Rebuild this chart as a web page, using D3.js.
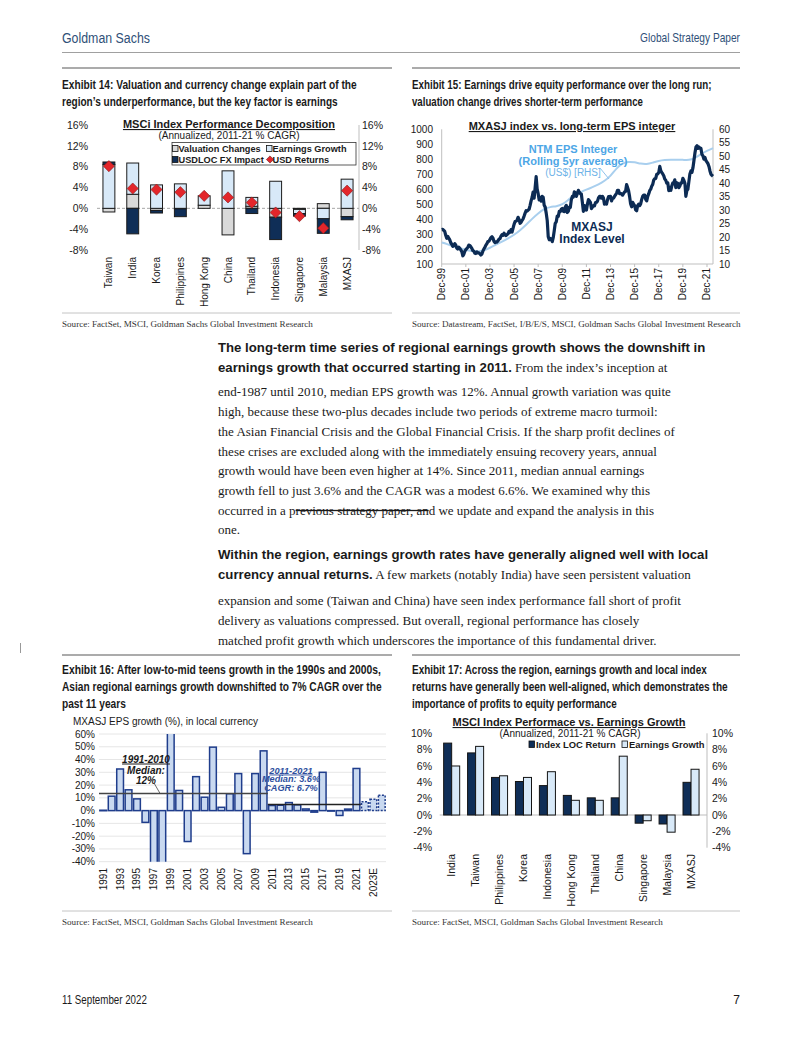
<!DOCTYPE html>
<html><head><meta charset="utf-8">
<script src="https://cdn.jsdelivr.net/npm/d3@7"></script>
<style>body{margin:0;background:#fff}svg{display:block}</style>
</head><body>
<svg id="page" width="802" height="1037"></svg>
<script>
// ---------------- DATA ----------------
// Exhibit 14
const ex14Countries = ["Taiwan","India","Korea","Philippines","Hong Kong","China","Thailand","Indonesia","Singapore","Malaysia","MXASJ"];
const ex14Valuation = [-0.7, 2.7, -0.4, -0.1, 0.6, -5.1, 0.4, -1.7, -0.2, 0.9, -1.6];
const ex14Earnings  = [8.4, 6.0, 4.5, 4.7, 1.8, 7.2, 1.7, 5.2, -0.8, -2.0, 5.6];
const ex14FX        = [0.5, -4.9, -0.5, -1.5, 0.0, 0.0, -1.0, -4.3, -0.5, -2.8, -0.6];
const ex14USD       = [8.1, 3.8, 3.6, 3.1, 2.4, 2.1, 1.1, -0.8, -1.5, -3.8, 3.4];
const ex14Ticks = [-8,-4,0,4,8,12,16];

// Exhibit 15 (monthly from Dec-99)
const mxasjStart = [1999, 11];
const mxasjMonthly = [330,
 332,325,318,292,272,285,272,262,242,232,218,222,
 236,226,206,200,212,205,194,183,155,165,185,196,
 204,212,226,224,215,204,190,186,172,170,181,174,
 175,168,160,166,186,200,212,226,236,250,252,264,
 276,282,274,252,243,248,246,255,266,270,286,296,
 292,306,294,290,296,302,318,312,330,314,340,365,
 384,386,392,412,398,372,378,392,402,420,440,456,
 454,460,466,492,522,546,580,540,612,684,600,570,
 528,546,520,552,546,492,480,440,390,282,262,270,
 264,250,276,322,372,382,420,418,452,450,466,472,
 452,450,480,492,444,452,480,478,530,552,548,582,
 576,552,570,592,580,570,568,512,452,490,468,460,
 500,530,522,512,470,480,490,488,510,512,520,542,
 552,552,540,552,540,500,510,500,530,550,550,552,
 522,540,540,552,562,572,592,592,570,572,568,560,
 572,582,584,630,612,590,552,502,482,512,500,490,
 462,456,490,500,490,502,530,552,560,560,532,522,
 552,570,590,600,620,632,660,670,672,700,702,712,
 752,722,712,702,690,668,660,640,642,590,612,592,
 622,642,642,662,610,642,640,610,622,642,642,672,
 660,640,552,592,600,652,702,722,712,742,792,842,
 882,890,872,882,872,872,832,822,800,812,790,780,
 770,750,722,700,692,686];
// semi-annual from Dec-99
const epsInteger = [18.0,17.3,16.5,15.8,15.2,14.8,14.5,15.0,16.0,17.2,18.3,19.5,20.8,22.5,24.5,26.8,28.8,30.5,31.2,31.4,32.0,33.8,35.6,36.6,37.6,38.5,39.5,40.8,42.6,45.6,47.5,48.0,47.8,47.2,47.0,47.6,48.3,48.6,48.7,48.7,48.7,48.5,49.3,50.8,52.0,53.0];
const ex15LeftTicks = [100,200,300,400,500,600,700,800,900,1000];
const ex15RightTicks = [10,15,20,25,30,35,40,45,50,55,60];

// Exhibit 16
const ex16Years = ["1991","1992","1993","1994","1995","1996","1997","1998","1999","2000","2001","2002","2003","2004","2005","2006","2007","2008","2009","2010","2011","2012","2013","2014","2015","2016","2017","2018","2019","2020","2021","2022E","2023E","2024E"];
const ex16Growth = [0.3,11.3,32.6,16.3,9.2,-9.2,-46,-48,95,15.8,-24.2,26.6,10.5,49.7,2.6,13.2,29.0,-33.7,29.0,46.8,4.0,4.2,6.3,4.5,1.3,-1.2,30.0,-0.3,-3.8,1.2,33.0,7.0,9.0,12.0];
const ex16Ticks = [-40,-30,-20,-10,0,10,20,30,40,50,60];
const ex16Median1 = {from:"1991", to:"2010", value:13.5};
const ex16Median2 = {from:"2011", to:"2021", value:4.7};

// Exhibit 17
const ex17Countries = ["India","Taiwan","Philippines","Korea","Indonesia","Hong Kong","Thailand","China","Singapore","Malaysia","MXASJ"];
const ex17LOC = [8.8, 7.6, 4.6, 4.1, 3.6, 2.4, 2.1, 2.1, -1.0, -1.1, 4.0];
const ex17EPS = [6.0, 8.4, 4.8, 4.6, 5.3, 1.8, 1.8, 7.2, -0.7, -2.1, 5.6];
const ex17Ticks = [-4,-2,0,2,4,6,8,10];

// ---------------- PAGE ----------------
const SANS = "'Liberation Sans', Arial, sans-serif";
const SERIF = "'Liberation Serif', 'Times New Roman', serif";
const NARROW = "'Liberation Sans Narrow', 'Arial Narrow', 'Liberation Sans', Arial, sans-serif";
const INK = "#1a1a1a";
const svg = d3.select("#page");
svg.append("rect").attr("width",802).attr("height",1037).attr("fill","#fff");

function hline(x1,x2,y,col,w){ svg.append("line").attr("x1",x1).attr("x2",x2).attr("y1",y).attr("y2",y).attr("stroke",col).attr("stroke-width",w); }
// condensed text: natural glyphs squeezed horizontally to a target width
function narrowText(x, y, target, str, opts){
  const t = svg.append("text").attr("x",0).attr("y",0).attr("font-family",NARROW)
    .attr("font-size",opts.size).attr("fill",opts.fill||INK).attr("font-weight",opts.weight||"normal")
    .attr("text-anchor",opts.anchor||"start").text(str);
  const w = t.node().getComputedTextLength();
  t.attr("transform",`translate(${x},${y}) scale(${target/w},1)`);
  return t;
}

// header
const headCol = "#2f5078";
narrowText(62,43,88,"Goldman Sachs",{size:15.5,fill:headCol});
narrowText(740,42,100,"Global Strategy Paper",{size:12,fill:headCol,anchor:"end"});
hline(62,740,52.5,"#a0a0a0",1);

// footer
narrowText(62,1004,85,"11 September 2022",{size:12});
svg.append("text").attr("x",740).attr("y",1004).attr("text-anchor","end").attr("font-family",NARROW).attr("font-size",12).attr("fill",INK).text("7");

// exhibit rules & titles
hline(62,392,68,"#ababab",2); hline(412,740,68,"#ababab",2);
hline(62,392,655,"#ababab",2); hline(412,740,655,"#ababab",2);
hline(62,392,313,"#c4c4c4",1); hline(412,740,313,"#c4c4c4",1);
hline(62,392,911,"#c4c4c4",1); hline(412,740,911,"#c4c4c4",1);
svg.append("line").attr("x1",20.5).attr("x2",20.5).attr("y1",643).attr("y2",653).attr("stroke","#999").attr("stroke-width",1);

const titleBlocks = [
  {x:62, y:[88.5,105.5], w:[295,276], lines:["Exhibit 14: Valuation and currency change explain part of the","region’s underperformance, but the key factor is earnings"]},
  {x:412,y:[88.5,105.5], w:[300,231], lines:["Exhibit 15: Earnings drive equity performance over the long run;","valuation change drives shorter-term performance"]},
  {x:62, y:[673.5,690.5,707.5], w:[319,320,64], lines:["Exhibit 16: After low-to-mid teens growth in the 1990s and 2000s,","Asian regional earnings growth downshifted to 7% CAGR over the","past 11 years"]},
  {x:412,y:[673.5,690.5,707.5], w:[295,316,205], lines:["Exhibit 17: Across the region, earnings growth and local index","returns have generally been well-aligned, which demonstrates the","importance of profits to equity performance"]}
];
titleBlocks.forEach(b=>b.lines.forEach((l,i)=>narrowText(b.x,b.y[i],b.w[i],l,{size:12.8,weight:"bold"})));

// sources
const srcs = [
  svg.append("text").attr("x",62).attr("y",327).text("Source: FactSet, MSCI, Goldman Sachs Global Investment Research"),
  svg.append("text").attr("x",412).attr("y",327).text("Source: Datastream, FactSet, I/B/E/S, MSCI, Goldman Sachs Global Investment Research"),
  svg.append("text").attr("x",62).attr("y",924.5).text("Source: FactSet, MSCI, Goldman Sachs Global Investment Research"),
  svg.append("text").attr("x",412).attr("y",924.5).text("Source: FactSet, MSCI, Goldman Sachs Global Investment Research")
];
srcs.forEach(s=>s.attr("font-family",SERIF).attr("font-size",9).attr("fill","#333"));
{ const w = srcs[1].node().getComputedTextLength(); const fs = 9*329/w; srcs.forEach(s=>s.attr("font-size",fs)); }

// body text
const bodyLines = [
 [["b","The long-term time series of regional earnings growth shows the downshift in"]],
 [["b","earnings growth that occurred starting in 2011."],["s"," From the index’s inception at"]],
 [["s","end-1987 until 2010, median EPS growth was 12%. Annual growth variation was quite"]],
 [["s","high, because these two-plus decades include two periods of extreme macro turmoil:"]],
 [["s","the Asian Financial Crisis and the Global Financial Crisis. If the sharp profit declines of"]],
 [["s","these crises are excluded along with the immediately ensuing recovery years, annual"]],
 [["s","growth would have been even higher at 14%. Since 2011, median annual earnings"]],
 [["s","growth fell to just 3.6% and the CAGR was a modest 6.6%. We examined why this"]],
 [["s","occurred in a p"],["x","revious strategy paper, an"],["s","d we update and expand the analysis in this"]],
 [["s","one."]],
 [["b","Within the region, earnings growth rates have generally aligned well with local"]],
 [["b","currency annual returns."],["s"," A few markets (notably India) have seen persistent valuation"]],
 [["s","expansion and some (Taiwan and China) have seen index performance fall short of profit"]],
 [["s","delivery as valuations compressed. But overall, regional performance has closely"]],
 [["s","matched profit growth which underscores the importance of this fundamental driver."]]
];
const bodyY = [352,372,396,416,436,455.5,475,495,514.5,534,559,579,605,625,645];
const bodyX = 218;
const bodyTexts = bodyLines.map((parts,i)=>{
  const t = svg.append("text").attr("x",bodyX).attr("y",bodyY[i]).attr("fill",INK).attr("font-size",14);
  parts.forEach(p=>{
    const ts = t.append("tspan").text(p[1]).attr("class","k"+p[0]);
    if(p[0]==="b"){ ts.attr("font-family",SANS).attr("font-weight","bold"); }
    else { ts.attr("font-family",SERIF); }
    if(p[0]==="x"){ ts.style("text-decoration","line-through"); }
  });
  return t;
});
{ const bw = bodyTexts[0].node().getComputedTextLength(); const bs = 14*488/bw;
  const sw = bodyTexts[2].node().getComputedTextLength(); const ss = 14*453/sw;
  svg.selectAll("tspan.kb").attr("font-size",bs);
  svg.selectAll("tspan.ks, tspan.kx").attr("font-size",ss); }

// ---------------- EXHIBIT 14 ----------------
(function(){
  const g = svg.append("g").attr("font-family",SANS).attr("fill",INK);
  const clip = svg.append("clipPath").attr("id","c14"); clip.append("rect").attr("x",55).attr("y",110).attr("width",345).attr("height",196);
  const x = d3.scaleBand().domain(ex14Countries).range([97,359]).paddingInner(0.5).paddingOuter(0.25);
  const y = d3.scaleLinear().domain([-8,16]).range([250,125]);
  g.selectAll("text.yl").data(ex14Ticks).join("text").attr("x",88).attr("y",d=>y(d)).attr("dy","0.35em").attr("text-anchor","end")
    .attr("font-size",10.5).text(d=>d+"%");
  g.selectAll("text.yr").data(ex14Ticks).join("text").attr("x",362).attr("y",d=>y(d)).attr("dy","0.35em").attr("text-anchor","start")
    .attr("font-size",10.5).text(d=>d+"%");
  g.append("line").attr("x1",359).attr("x2",359).attr("y1",y(16)).attr("y2",y(-8)).attr("stroke","#bfbfbf");
  g.append("line").attr("x1",97).attr("x2",359).attr("y1",y(0)).attr("y2",y(0)).attr("stroke","#a6a6a6").attr("stroke-dasharray","3,2");
  const series = [{vals:ex14Valuation, fill:"#d9d9d9"},{vals:ex14Earnings, fill:"#d8e9f8"},{vals:ex14FX, fill:"#0f2e57"}];
  const segs = [];
  ex14Countries.forEach((c,i)=>{ let pos=0,neg=0;
    series.forEach(s=>{ const v=s.vals[i]; if(v===0) return;
      if(v>0){ segs.push({c,y0:pos,y1:pos+v,fill:s.fill}); pos+=v; } else { segs.push({c,y0:neg+v,y1:neg,fill:s.fill}); neg+=v; } }); });
  g.selectAll("rect.seg").data(segs).join("rect").attr("x",d=>x(d.c)).attr("width",x.bandwidth())
    .attr("y",d=>y(d.y1)).attr("height",d=>y(d.y0)-y(d.y1)).attr("fill",d=>d.fill).attr("stroke","#1c1c1c").attr("stroke-width",1);
  const dia = d3.symbol().type(d3.symbolSquare).size(62);
  g.selectAll("path.usd").data(ex14USD).join("path").attr("d",dia)
    .attr("transform",(d,i)=>`translate(${x(ex14Countries[i])+x.bandwidth()/2},${y(d)}) rotate(45)`)
    .attr("fill","#e3262b").attr("stroke","#8a1c1c").attr("stroke-width",0.6);
  const xl = g.append("g").attr("clip-path","url(#c14)");
  xl.selectAll("text").data(ex14Countries).join("text")
    .attr("transform",d=>`translate(${x(d)+x.bandwidth()/2},257) rotate(-90)`).attr("dy","0.35em").attr("text-anchor","end")
    .attr("font-size",10).text(d=>d);
  g.append("text").attr("x",229).attr("y",128).attr("text-anchor","middle").attr("font-weight","bold").attr("font-size",11)
    .style("text-decoration","underline").text("MSCi Index Performance Decomposition");
  g.append("text").attr("x",229).attr("y",139).attr("text-anchor","middle").attr("font-size",10).text("(Annualized, 2011-21 % CAGR)");
  g.append("rect").attr("x",172).attr("y",142.5).attr("width",184).attr("height",22.5).attr("fill","#fff").attr("stroke","#333").attr("stroke-width",0.8);
  const leg = [
    {t:"Valuation Changes", x:175, y:148.5, fill:"#d9d9d9", sym:"sq"},
    {t:"Earnings Growth", x:269, y:148.5, fill:"#d8e9f8", sym:"sq"},
    {t:"USDLOC FX Impact", x:175, y:159.5, fill:"#0f2e57", sym:"sq"},
    {t:"USD Returns", x:269, y:159.5, fill:"#e3262b", sym:"dia"}
  ];
  leg.forEach(l=>{
    if(l.sym==="sq") g.append("rect").attr("x",l.x-2.5).attr("y",l.y-3).attr("width",5.5).attr("height",6).attr("fill",l.fill).attr("stroke","#111").attr("stroke-width",0.8);
    else g.append("path").attr("d",d3.symbol().type(d3.symbolSquare).size(26)).attr("transform",`translate(${l.x+1},${l.y}) rotate(45)`).attr("fill",l.fill).attr("stroke","#6a1a1a").attr("stroke-width",0.6);
    g.append("text").attr("x",l.x+3.5).attr("y",l.y).attr("dy","0.35em").attr("font-size",9.2).attr("font-weight","bold").text(l.t);
  });
})();

// ---------------- EXHIBIT 15 ----------------
(function(){
  const g = svg.append("g").attr("font-family",SANS).attr("fill",INK);
  const t0 = new Date(mxasjStart[0], mxasjStart[1], 1);
  const x = d3.scaleTime().domain([t0, d3.timeMonth.offset(t0, mxasjMonthly.length-1)]).range([441.7,713]);
  const yL = d3.scaleLinear().domain([100,1000]).range([264,129.3]);
  const yR = d3.scaleLinear().domain([10,60]).range([264,129.3]);
  g.append("line").attr("x1",441.7).attr("x2",441.7).attr("y1",129.3).attr("y2",264).attr("stroke","#bfbfbf");
  g.append("line").attr("x1",713).attr("x2",713).attr("y1",129.3).attr("y2",264).attr("stroke","#bfbfbf");
  g.append("line").attr("x1",441.7).attr("x2",713).attr("y1",264).attr("y2",264).attr("stroke","#bfbfbf");
  g.selectAll("text.l").data(ex15LeftTicks).join("text").attr("x",433).attr("y",d=>yL(d)).attr("dy","0.35em").attr("text-anchor","end").attr("font-size",10).text(d=>d);
  g.selectAll("text.r").data(ex15RightTicks).join("text").attr("x",719).attr("y",d=>yR(d)).attr("dy","0.35em").attr("text-anchor","start").attr("font-size",10).text(d=>d);
  const ticks = d3.range(0, 12).map(k=>d3.timeYear.offset(t0, 2*k));
  g.selectAll("line.tk").data(ticks).join("line").attr("x1",d=>x(d)).attr("x2",d=>x(d)).attr("y1",264).attr("y2",267).attr("stroke","#bfbfbf");
  g.selectAll("text.xl").data(ticks).join("text").attr("transform",d=>`translate(${x(d)},268) rotate(-90)`).attr("dy","0.35em")
    .attr("text-anchor","end").attr("font-size",10).text(d3.timeFormat("Dec-%y"));
  const epsPts = epsInteger.map((v,i)=>({d:d3.timeMonth.offset(t0,6*i), v}));
  g.append("path").datum(epsPts).attr("fill","none").attr("stroke","#a9cfee").attr("stroke-width",2)
    .attr("d",d3.line().x(p=>x(p.d)).y(p=>yR(p.v)).curve(d3.curveBasis));
  const mPts = mxasjMonthly.map((v,i)=>({d:d3.timeMonth.offset(t0,i), v}));
  g.append("path").datum(mPts).attr("fill","none").attr("stroke","#0c2b54").attr("stroke-width",3.2).attr("stroke-linejoin","round")
    .attr("d",d3.line().x(p=>x(p.d)).y(p=>yL(p.v)));
  g.append("text").attr("x",572).attr("y",130).attr("text-anchor","middle").attr("font-weight","bold").attr("font-size",11)
    .style("text-decoration","underline").text("MXASJ index vs. long-term EPS integer");
  g.append("text").attr("x",573).attr("y",153).attr("text-anchor","middle").attr("font-weight","bold").attr("font-size",11).attr("fill","#4da6e6").text("NTM EPS Integer");
  g.append("text").attr("x",573).attr("y",165).attr("text-anchor","middle").attr("font-weight","bold").attr("font-size",11).attr("fill","#4da6e6").text("(Rolling 5yr average)");
  g.append("text").attr("x",573).attr("y",176).attr("text-anchor","middle").attr("font-size",10).attr("fill","#6db3e8").text("(US$) [RHS]");
  g.append("line").attr("x1",600).attr("y1",168).attr("x2",609).attr("y2",179).attr("stroke","#8fc2ec").attr("stroke-width",1);
  g.append("text").attr("x",592).attr("y",231).attr("text-anchor","middle").attr("font-weight","bold").attr("font-size",12).attr("fill","#0c2b54").text("MXASJ");
  g.append("text").attr("x",592).attr("y",243).attr("text-anchor","middle").attr("font-weight","bold").attr("font-size",12).attr("fill","#0c2b54").text("Index Level");
})();

// ---------------- EXHIBIT 16 ----------------
(function(){
  const g = svg.append("g").attr("font-family",SANS).attr("fill",INK);
  const x = d3.scaleBand().domain(ex16Years).range([99,386]).paddingInner(0.2).paddingOuter(0.1);
  const y = d3.scaleLinear().domain([-40,60]).range([861.7,734]);
  const clip = svg.append("clipPath").attr("id","c16"); clip.append("rect").attr("x",95).attr("y",734).attr("width",295).attr("height",127.7);
  g.append("text").attr("x",73).attr("y",725).attr("font-size",10).text("MXASJ EPS growth (%), in local currency");
  g.selectAll("line.gr").data(ex16Ticks).join("line").attr("x1",99).attr("x2",386).attr("y1",d=>y(d)).attr("y2",d=>y(d)).attr("stroke","#e6e6e6");
  g.selectAll("text.yl").data(ex16Ticks).join("text").attr("x",95).attr("y",d=>y(d)).attr("dy","0.35em").attr("text-anchor","end").attr("font-size",10).text(d=>d+"%");
  const bars = g.append("g").attr("clip-path","url(#c16)");
  bars.selectAll("rect").data(ex16Years).join("rect").attr("x",d=>x(d)).attr("width",x.bandwidth())
    .attr("y",(d,i)=>y(Math.max(0,ex16Growth[i]))).attr("height",(d,i)=>Math.max(0.5,Math.abs(y(ex16Growth[i])-y(0))))
    .attr("fill","#c9d9f0").attr("stroke","#1f3d8c").attr("stroke-width",1.5)
    .attr("stroke-dasharray",d=>d.endsWith("E")?"2,1.5":null);
  const m1 = ex16Median1, m2 = ex16Median2;
  g.append("line").attr("x1",x(m1.from)-x.step()*x.paddingInner()/2).attr("x2",x(m1.to)+x.bandwidth()+x.step()*x.paddingInner()/2)
    .attr("y1",y(m1.value)).attr("y2",y(m1.value)).attr("stroke","#444").attr("stroke-width",1.5);
  g.append("line").attr("x1",x(m2.from)-x.step()*x.paddingInner()/2).attr("x2",x(m2.to)+x.bandwidth()+x.step()*x.paddingInner()/2)
    .attr("y1",y(m2.value)).attr("y2",y(m2.value)).attr("stroke","#222").attr("stroke-width",1.5);
  const labelYears = ex16Years.filter((d,i)=>i%2===0);
  g.selectAll("text.xl").data(labelYears).join("text").attr("transform",d=>`translate(${x(d)+x.bandwidth()/2},868) rotate(-90)`)
    .attr("dy","0.35em").attr("text-anchor","end").attr("font-size",10).text(d=>d);
  const a1 = [["1991-2010",762.5,true],["Median:",774,false],["12%",784,false]];
  a1.forEach(a=>g.append("text").attr("x",146).attr("y",a[1]).attr("text-anchor","middle").attr("font-size",10).attr("font-weight","bold")
    .attr("font-style","italic").style("text-decoration",a[2]?"underline":null).text(a[0]));
  g.append("line").attr("x1",154).attr("y1",783).attr("x2",160).attr("y2",y(m1.value)).attr("stroke","#444").attr("stroke-width",0.8);
  const a2 = [["2011-2021",773.5,true],["Median: 3.6%",782,false],["CAGR: 6.7%",791,false]];
  a2.forEach(a=>g.append("text").attr("x",291).attr("y",a[1]).attr("text-anchor","middle").attr("font-size",9.2).attr("font-weight","bold")
    .attr("font-style","italic").attr("fill","#2e4f9e").style("text-decoration",a[2]?"underline":null).text(a[0]));
})();

// ---------------- EXHIBIT 17 ----------------
(function(){
  const g = svg.append("g").attr("font-family",SANS).attr("fill",INK);
  const x = d3.scaleBand().domain(ex17Countries).range([439.7,703]).paddingInner(0.33).paddingOuter(0.165);
  const xs = d3.scaleBand().domain(["LOC","EPS"]).range([0,x.bandwidth()]);
  const y = d3.scaleLinear().domain([-4,10]).range([847.7,733.3]);
  g.append("line").attr("x1",439.7).attr("x2",707).attr("y1",y(0)).attr("y2",y(0)).attr("stroke","#bdbdbd");
  g.append("line").attr("x1",707).attr("x2",707).attr("y1",y(10)).attr("y2",y(-4)).attr("stroke","#bdbdbd");
  g.selectAll("text.yl").data(ex17Ticks).join("text").attr("x",432).attr("y",d=>y(d)).attr("dy","0.35em").attr("text-anchor","end").attr("font-size",10.5).text(d=>d+"%");
  g.selectAll("text.yr").data(ex17Ticks).join("text").attr("x",712).attr("y",d=>y(d)).attr("dy","0.35em").attr("text-anchor","start").attr("font-size",10.5).text(d=>d+"%");
  const data = [];
  ex17Countries.forEach((c,i)=>{ data.push({c,k:"LOC",v:ex17LOC[i]}); data.push({c,k:"EPS",v:ex17EPS[i]}); });
  g.selectAll("rect.b").data(data).join("rect").attr("x",d=>x(d.c)+xs(d.k)).attr("width",xs.bandwidth())
    .attr("y",d=>y(Math.max(0,d.v))).attr("height",d=>Math.abs(y(d.v)-y(0)))
    .attr("fill",d=>d.k==="LOC"?"#0f2e57":"#d8e9f8").attr("stroke","#141414").attr("stroke-width",1);
  g.selectAll("text.xl").data(ex17Countries).join("text").attr("transform",d=>`translate(${x(d)+x.bandwidth()/2},854) rotate(-90)`)
    .attr("dy","0.35em").attr("text-anchor","end").attr("font-size",10.5).text(d=>d);
  g.append("text").attr("x",569).attr("y",726).attr("text-anchor","middle").attr("font-weight","bold").attr("font-size",11)
    .style("text-decoration","underline").text("MSCI Index Performace vs. Earnings Growth");
  g.append("text").attr("x",570).attr("y",737).attr("text-anchor","middle").attr("font-size",10).text("(Annualized, 2011-21 % CAGR)");
  const leg = [{t:"Index LOC Return",x:529,fill:"#0f2e57"},{t:"Earnings Growth",x:622,fill:"#d8e9f8"}];
  leg.forEach(l=>{
    g.append("rect").attr("x",l.x).attr("y",741).attr("width",5.5).attr("height",6.5).attr("fill",l.fill).attr("stroke","#111").attr("stroke-width",0.8);
    g.append("text").attr("x",l.x+7).attr("y",744.5).attr("dy","0.35em").attr("font-size",9.4).attr("font-weight","bold").text(l.t);
  });
})();
</script>
</body></html>
